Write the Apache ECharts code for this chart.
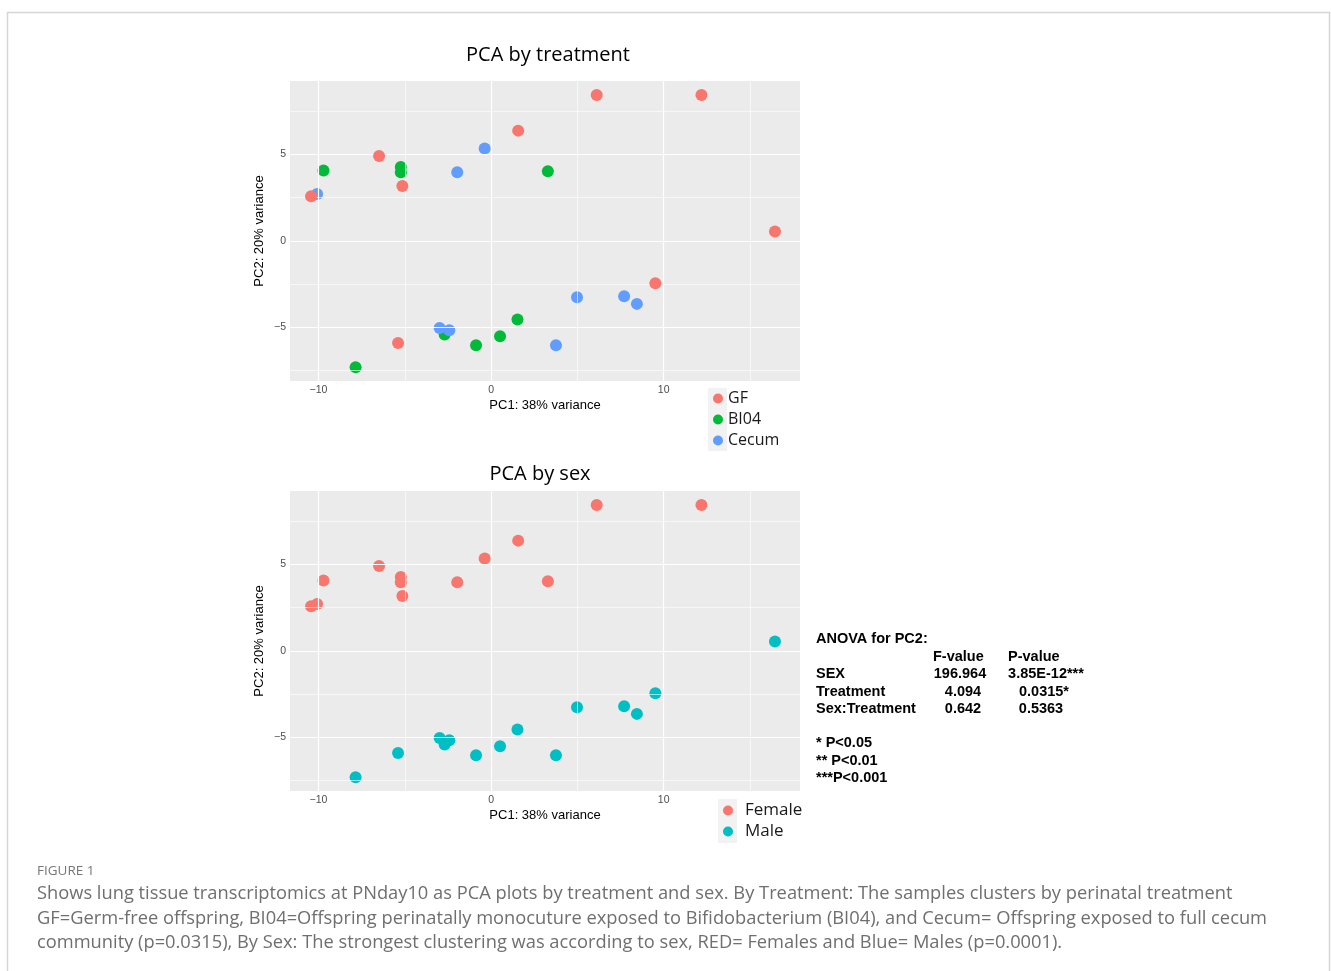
<!DOCTYPE html>
<html><head><meta charset="utf-8">
<script src="https://cdn.jsdelivr.net/npm/echarts@6/dist/echarts.min.js"></script>
<style>html,body{margin:0;padding:0;background:#fff}#c{width:1331px;height:971px}</style>
</head><body><div id="c"></div><script>
// ---- data ----
const pc1 = [6.12, 12.19, 1.57, -6.49, -5.14, -10.43, 16.45, 9.52, -5.39,
             -9.71, -5.23, -5.23, 3.29, 1.53, 0.52, -0.87, -2.69, -7.85,
             -10.08, -1.96, -0.37, 4.98, 7.71, 8.45, -2.98, -2.42, 3.76];
const pc2 = [8.44, 8.44, 6.38, 4.91, 3.18, 2.58, 0.54, -2.45, -5.90,
             4.08, 4.28, 3.97, 4.03, -4.55, -5.51, -6.03, -5.41, -7.30,
             2.72, 3.97, 5.34, -3.26, -3.20, -3.64, -5.03, -5.16, -6.03];
const treatment = ['GF','GF','GF','GF','GF','GF','GF','GF','GF',
                   'BI04','BI04','BI04','BI04','BI04','BI04','BI04','BI04','BI04',
                   'Cecum','Cecum','Cecum','Cecum','Cecum','Cecum','Cecum','Cecum','Cecum'];
const sex = ['Female','Female','Female','Female','Female','Female','Male','Male','Male',
             'Female','Female','Female','Female','Male','Male','Male','Male','Male',
             'Female','Female','Female','Male','Male','Male','Male','Male','Male'];
const treatmentLevels = ['GF','BI04','Cecum'];
const sexLevels = ['Female','Male'];
const xMajor = [-10, 0, 10];
const xMinor = [-5, 5, 15];
const yMajor = [-5, 0, 5];
const yMinor = [-7.5, -2.5, 2.5, 7.5];
const xRange = [-11.65, 17.9];
const yRange = [-8.1, 9.25];
const anovaHeader = ['F-value', 'P-value'];
const anovaTerms = ['SEX', 'Treatment', 'Sex:Treatment'];
const anovaF = ['196.964', '4.094', '0.642'];
const anovaP = ['3.85E-12***', '0.0315*', '0.5363'];
const sigNotes = ['* P<0.05', '** P<0.01', '***P<0.001'];
const captionLines = [
 'Shows lung tissue transcriptomics at PNday10 as PCA plots by treatment and sex. By Treatment: The samples clusters by perinatal treatment',
 'GF=Germ-free offspring, BI04=Offspring perinatally monocuture exposed to Bifidobacterium (BI04), and Cecum= Offspring exposed to full cecum',
 'community (p=0.0315), By Sex: The strongest clustering was according to sex, RED= Females and Blue= Males (p=0.0001).'
];
// ---- style ----
const colTreat = {GF:'#F8766D', BI04:'#00BA38', Cecum:'#619CFF'};
const colSex = {Female:'#F8766D', Male:'#00BFC4'};
const zTreat = {GF:5, BI04:3, Cecum:4};
const fmt = v => v < 0 ? '\u2212' + Math.abs(v) : String(v);

function xAx(i){
  return {type:'value', gridIndex:i, min:xRange[0], max:xRange[1],
    name:'PC1: 38% variance', nameLocation:'middle', nameGap:18,
    nameTextStyle:{color:'#000', fontSize:13, fontFamily:'Liberation Sans'},
    axisLine:{show:false}, splitLine:{show:false},
    axisTick:{show:true, customValues:xMajor, length:3, lineStyle:{color:'#333', width:1}},
    axisLabel:{customValues:xMajor, formatter:fmt, color:'#4d4d4d', fontSize:10.5, margin:4, fontFamily:'Liberation Sans'}};
}
function yAx(i){
  return {type:'value', gridIndex:i, min:yRange[0], max:yRange[1],
    name:'PC2: 20% variance', nameLocation:'middle', nameGap:24, nameRotate:90,
    nameTextStyle:{color:'#000', fontSize:13, fontFamily:'Liberation Sans'},
    axisLine:{show:false}, splitLine:{show:false},
    axisTick:{show:true, customValues:yMajor, length:3, lineStyle:{color:'#333', width:1}},
    axisLabel:{customValues:yMajor, formatter:fmt, color:'#4d4d4d', fontSize:10.5, margin:4, fontFamily:'Liberation Sans'}};
}
function gridSeries(i){
  const data = [];
  xMinor.forEach(v => data.push({xAxis:v, lineStyle:{width:0.6}}));
  yMinor.forEach(v => data.push({yAxis:v, lineStyle:{width:0.6}}));
  xMajor.forEach(v => data.push({xAxis:v, lineStyle:{width:1.2}}));
  yMajor.forEach(v => data.push({yAxis:v, lineStyle:{width:1.2}}));
  return {name:'grid'+i, type:'scatter', xAxisIndex:i, yAxisIndex:i, data:[], silent:true, z:1,
    markLine:{silent:true, symbol:'none', animation:false, label:{show:false},
      lineStyle:{color:'#ffffff', type:'solid'}, emphasis:{disabled:true}, data:data}};
}
const series = [gridSeries(0), gridSeries(1)];
treatmentLevels.forEach(t => {
  const d = [];
  pc1.forEach((x, k) => { if (treatment[k] === t) d.push([x, pc2[k]]); });
  series.push({name:t, type:'scatter', xAxisIndex:0, yAxisIndex:0, data:d, symbolSize:12,
    itemStyle:{color:colTreat[t], opacity:1}, z:zTreat[t]});
});
sexLevels.forEach(s => {
  const d = [];
  pc1.forEach((x, k) => { if (sex[k] === s) d.push([x, pc2[k]]); });
  series.push({name:s, type:'scatter', xAxisIndex:1, yAxisIndex:1, data:d, symbolSize:12,
    itemStyle:{color:colSex[s], opacity:1}, z:3});
});

const boldFont = 'bold 14.5px "Liberation Sans"';
const graphics = [
  {type:'rect', shape:{x:7.5, y:12.5, width:1322, height:1000}, style:{fill:'none', stroke:'#d6d6d6', lineWidth:1.5}, z:-10},
  {type:'rect', shape:{x:708, y:388, width:19, height:63}, style:{fill:'#f2f2f2'}, z:-5},
  {type:'rect', shape:{x:718, y:799, width:19, height:44}, style:{fill:'#f2f2f2'}, z:-5},
  {type:'text', x:548, y:55, style:{text:'PCA by treatment', fill:'#000', font:'20px "Open Sans"', textAlign:'center', textVerticalAlign:'middle'}},
  {type:'text', x:540, y:474, style:{text:'PCA by sex', fill:'#000', font:'20px "Open Sans"', textAlign:'center', textVerticalAlign:'middle'}},
  {type:'text', x:816, y:639, style:{text:'ANOVA for PC2:', fill:'#000', font:boldFont, textVerticalAlign:'middle'}},
  {type:'text', x:933, y:657, style:{text:anovaHeader[0], fill:'#000', font:boldFont, textVerticalAlign:'middle'}},
  {type:'text', x:1008, y:657, style:{text:anovaHeader[1], fill:'#000', font:boldFont, textVerticalAlign:'middle'}},
  {type:'text', x:37, y:871, style:{text:'FIGURE 1', fill:'#777', font:'13.5px "Open Sans"', textVerticalAlign:'middle'}}
];
const fX = [960, 963, 963], pX = [1046, 1044, 1041];
anovaTerms.forEach((t, k) => {
  const y = 674 + k * 17.5;
  graphics.push({type:'text', x:816, y:y, style:{text:t, fill:'#000', font:boldFont, textVerticalAlign:'middle'}});
  graphics.push({type:'text', x:fX[k], y:y, style:{text:anovaF[k], fill:'#000', font:boldFont, textAlign:'center', textVerticalAlign:'middle'}});
  graphics.push({type:'text', x:pX[k], y:y, style:{text:anovaP[k], fill:'#000', font:boldFont, textAlign:'center', textVerticalAlign:'middle'}});
});
sigNotes.forEach((t, k) => {
  graphics.push({type:'text', x:816, y:743 + k * 17.5, style:{text:t, fill:'#000', font:boldFont, textVerticalAlign:'middle'}});
});
captionLines.forEach((t, k) => {
  graphics.push({type:'text', x:37, y:894 + k * 24.5, style:{text:t, fill:'#6f6f6f', font:'18.3px "Open Sans"', textVerticalAlign:'middle'}});
});

const chart = echarts.init(document.getElementById('c'), null, {renderer:'canvas'});
chart.setOption({
  animation:false,
  backgroundColor:'#fff',
  grid:[
    {left:290, top:81, width:510, height:300, show:true, backgroundColor:'#EBEBEB', borderWidth:0},
    {left:290, top:491, width:510, height:300, show:true, backgroundColor:'#EBEBEB', borderWidth:0}
  ],
  xAxis:[xAx(0), xAx(1)],
  yAxis:[yAx(0), yAx(1)],
  legend:[
    {data:treatmentLevels, orient:'vertical', left:713, top:388, padding:0, itemGap:0, itemWidth:10, itemHeight:10,
     icon:'circle', selectedMode:false, textStyle:{fontSize:16, lineHeight:21, color:'#1a1a1a', fontFamily:'Open Sans'}},
    {data:sexLevels, orient:'vertical', left:723, top:800, padding:0, itemGap:0, itemWidth:10, itemHeight:10,
     icon:'circle', selectedMode:false, textStyle:{fontSize:17, lineHeight:21, color:'#1a1a1a', fontFamily:'Open Sans', padding:[0,0,0,7]}}
  ],
  series:series,
  graphic:graphics
});
</script></body></html>
